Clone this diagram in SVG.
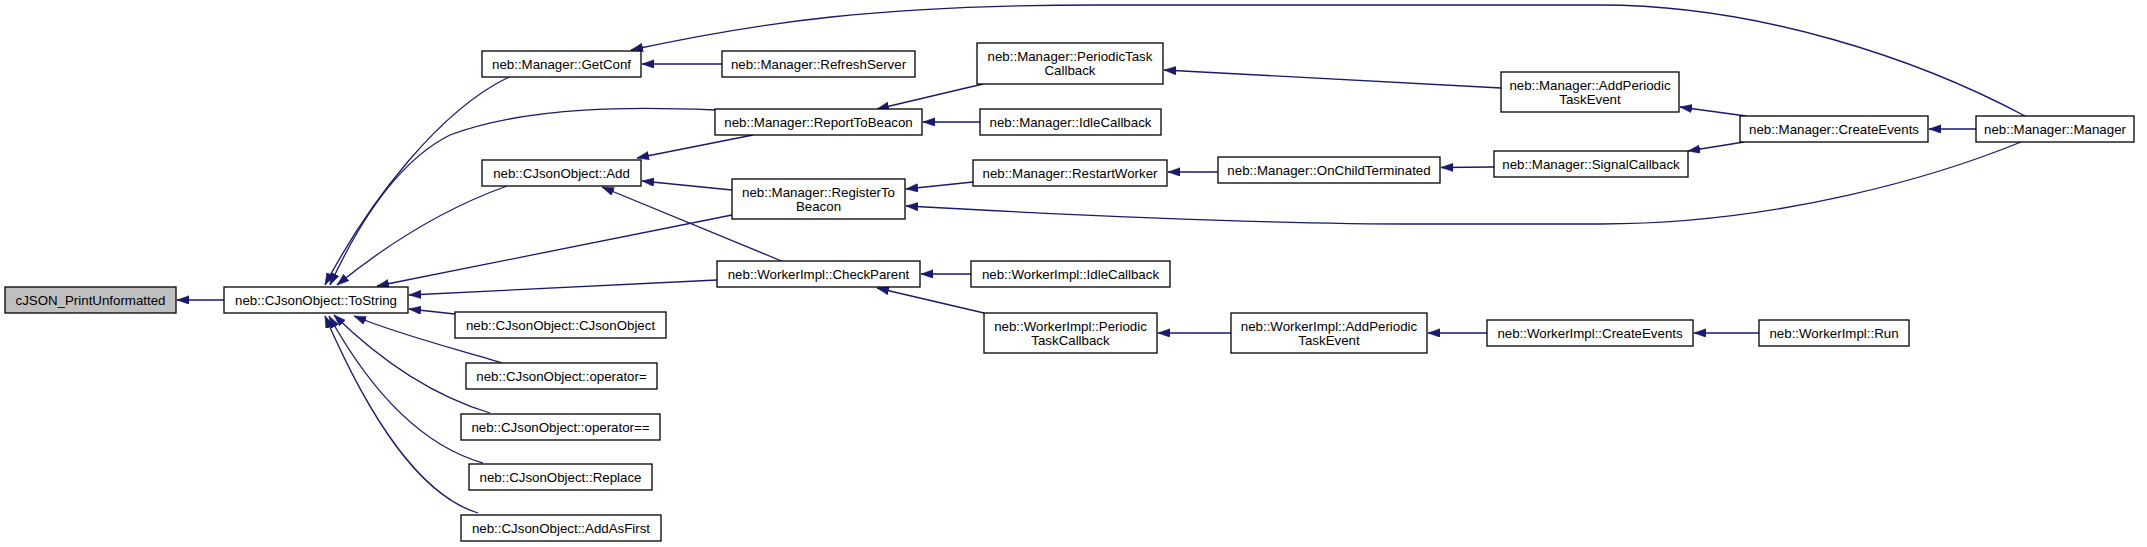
<svg xmlns="http://www.w3.org/2000/svg" width="2147" height="547" viewBox="0 0 2147 547">
<style>
.n rect{fill:#fff;stroke:#000;stroke-width:1.3}
.n.g rect{fill:#bfbfbf}
.n text{font-family:"Liberation Sans",Arial,sans-serif;font-size:13.3px;fill:#000;text-anchor:middle}
#edges path{fill:none;stroke:#191970;stroke-width:1.3;marker-end:url(#ah)}
</style>
<defs>
<marker id="ah" markerUnits="userSpaceOnUse" markerWidth="13" markerHeight="9" refX="12" refY="4.25" orient="auto">
<path d="M0,0 L12,4.25 L0,8.5 z" fill="#191970" stroke="#191970" stroke-width="0.5"/>
</marker>
</defs>
<rect width="2147" height="547" fill="#fff"/>
<g id="edges">
<path d="M224,300 L177,300"/>
<path d="M509,77 C440,110 370,200 325,285"/>
<path d="M715,110 C640,107 530,105 450,135 C400,160 360,220 330,285"/>
<path d="M507,186 C440,210 380,250 337,285"/>
<path d="M732,215 L377,286"/>
<path d="M717,280 L409,295"/>
<path d="M455,314 L409,309"/>
<path d="M502,363 C460,350 400,335 354,316"/>
<path d="M490,413 C430,395 380,360 334,315"/>
<path d="M483,463 C420,445 370,390 329,316"/>
<path d="M478,513 C420,495 370,420 325,316"/>
<path d="M722,64 L642,64"/>
<path d="M2025,116 C1920,60 1760,5 1600,5 L1100,5 C880,5 760,22 631,50"/>
<path d="M753,135 L637,158"/>
<path d="M732,190 L642,181"/>
<path d="M784,262 L602,187"/>
<path d="M983,84 L877,109"/>
<path d="M980,122 L923,122"/>
<path d="M973,182 L906,189"/>
<path d="M2021,142 C1940,175 1780,224 1600,224 L1420,224 C1250,224 1050,214 906,206"/>
<path d="M971,274 L921,274"/>
<path d="M984,313 L877,288"/>
<path d="M1218,172 L1168,172"/>
<path d="M1494,167 L1441,167.5"/>
<path d="M1501,88 L1164,70"/>
<path d="M1746,116 L1680,107"/>
<path d="M1744,142 L1688,151"/>
<path d="M1976,129 L1929,129"/>
<path d="M1231,333 L1158,333"/>
<path d="M1487,333 L1428,333"/>
<path d="M1759,333 L1694,333"/>
</g>
<g id="n_cjson" class="n g"><rect x="5" y="287" width="171" height="26"/><text x="90.5" y="304.5">cJSON_PrintUnformatted</text></g>
<g id="n_tostring" class="n"><rect x="224" y="287" width="184" height="26"/><text x="316" y="304.5">neb::CJsonObject::ToString</text></g>
<g id="n_getconf" class="n"><rect x="482" y="51" width="159" height="26"/><text x="561.5" y="68.5">neb::Manager::GetConf</text></g>
<g id="n_add" class="n"><rect x="482" y="160" width="159" height="26"/><text x="561.5" y="177.5">neb::CJsonObject::Add</text></g>
<g id="n_ctor" class="n"><rect x="455" y="312" width="211" height="26"/><text x="560.5" y="329.5">neb::CJsonObject::CJsonObject</text></g>
<g id="n_opeq" class="n"><rect x="466" y="363" width="191" height="26"/><text x="561.5" y="380.5">neb::CJsonObject::operator=</text></g>
<g id="n_opeqeq" class="n"><rect x="461" y="414" width="199" height="26"/><text x="560.5" y="431.5">neb::CJsonObject::operator==</text></g>
<g id="n_replace" class="n"><rect x="469" y="464" width="183" height="26"/><text x="560.5" y="481.5">neb::CJsonObject::Replace</text></g>
<g id="n_addasfirst" class="n"><rect x="461" y="515" width="200" height="26"/><text x="561" y="532.5">neb::CJsonObject::AddAsFirst</text></g>
<g id="n_refresh" class="n"><rect x="722" y="51" width="193" height="26"/><text x="818.5" y="68.5">neb::Manager::RefreshServer</text></g>
<g id="n_report" class="n"><rect x="715" y="109" width="207" height="26"/><text x="818.5" y="126.5">neb::Manager::ReportToBeacon</text></g>
<g id="n_register" class="n"><rect x="732" y="179" width="173" height="40"/><text x="818.5" y="196.5">neb::Manager::RegisterTo</text><text x="818.5" y="211">Beacon</text></g>
<g id="n_checkparent" class="n"><rect x="717" y="261" width="203" height="26"/><text x="818.5" y="278.5">neb::WorkerImpl::CheckParent</text></g>
<g id="n_mptc" class="n"><rect x="977" y="43" width="186" height="41"/><text x="1070" y="60.5">neb::Manager::PeriodicTask</text><text x="1070" y="75">Callback</text></g>
<g id="n_midle" class="n"><rect x="980" y="109" width="181" height="26"/><text x="1070.5" y="126.5">neb::Manager::IdleCallback</text></g>
<g id="n_restart" class="n"><rect x="973" y="160" width="194" height="26"/><text x="1070" y="177.5">neb::Manager::RestartWorker</text></g>
<g id="n_widle" class="n"><rect x="971" y="261" width="199" height="26"/><text x="1070.5" y="278.5">neb::WorkerImpl::IdleCallback</text></g>
<g id="n_wptc" class="n"><rect x="984" y="313" width="173" height="40"/><text x="1070.5" y="330.5">neb::WorkerImpl::Periodic</text><text x="1070.5" y="345">TaskCallback</text></g>
<g id="n_onchild" class="n"><rect x="1218" y="157" width="222" height="26"/><text x="1329" y="174.5">neb::Manager::OnChildTerminated</text></g>
<g id="n_maddpte" class="n"><rect x="1501" y="72" width="178" height="40"/><text x="1590" y="89.5">neb::Manager::AddPeriodic</text><text x="1590" y="104">TaskEvent</text></g>
<g id="n_signal" class="n"><rect x="1494" y="151" width="194" height="26"/><text x="1591" y="168.5">neb::Manager::SignalCallback</text></g>
<g id="n_waddpte" class="n"><rect x="1231" y="313" width="196" height="40"/><text x="1329" y="330.5">neb::WorkerImpl::AddPeriodic</text><text x="1329" y="345">TaskEvent</text></g>
<g id="n_mcreate" class="n"><rect x="1740" y="116" width="188" height="26"/><text x="1834" y="133.5">neb::Manager::CreateEvents</text></g>
<g id="n_manager" class="n"><rect x="1976" y="116" width="158" height="26"/><text x="2055" y="133.5">neb::Manager::Manager</text></g>
<g id="n_wcreate" class="n"><rect x="1487" y="320" width="206" height="26"/><text x="1590" y="337.5">neb::WorkerImpl::CreateEvents</text></g>
<g id="n_wrun" class="n"><rect x="1759" y="320" width="150" height="26"/><text x="1834" y="337.5">neb::WorkerImpl::Run</text></g>
</svg>
